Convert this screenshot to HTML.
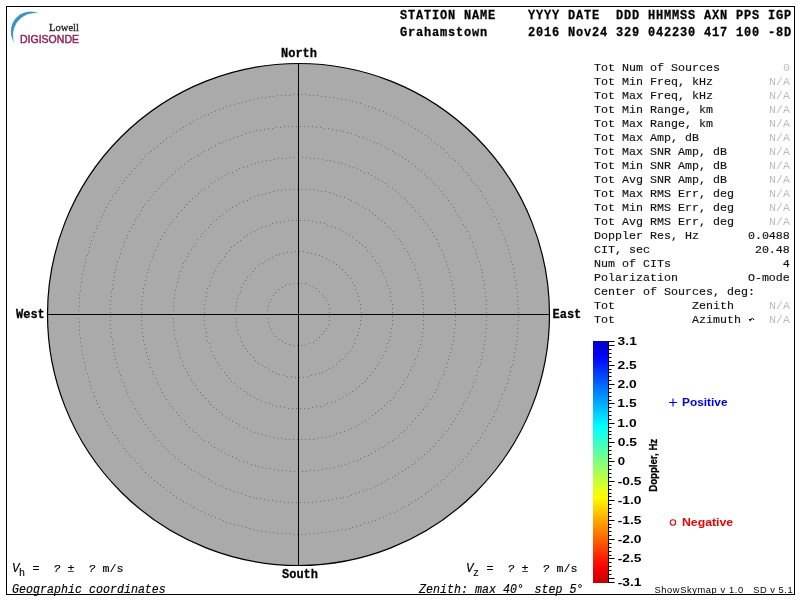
<!DOCTYPE html><html><head><meta charset="utf-8"><style>html,body{margin:0;padding:0;background:#fff;width:800px;height:600px;overflow:hidden}svg{display:block;will-change:transform}.m{font-family:"Liberation Mono",monospace}.k{stroke:currentColor;stroke-width:0.2px}.s{font-family:"Liberation Sans",sans-serif}.sf{font-family:"Liberation Serif",serif}</style></head><body>
<svg width="800" height="600" viewBox="0 0 800 600">
<defs><linearGradient id="jet" x1="0" y1="341" x2="0" y2="583" gradientUnits="userSpaceOnUse">
<stop offset="0.0000" stop-color="#0000c7"/>
<stop offset="0.0250" stop-color="#0000dd"/>
<stop offset="0.0500" stop-color="#0000f3"/>
<stop offset="0.0750" stop-color="#000aff"/>
<stop offset="0.1000" stop-color="#0020ff"/>
<stop offset="0.1250" stop-color="#0036ff"/>
<stop offset="0.1500" stop-color="#004cff"/>
<stop offset="0.1750" stop-color="#0062ff"/>
<stop offset="0.2000" stop-color="#0078ff"/>
<stop offset="0.2250" stop-color="#008eff"/>
<stop offset="0.2500" stop-color="#00a4ff"/>
<stop offset="0.2750" stop-color="#00baff"/>
<stop offset="0.3000" stop-color="#00d0ff"/>
<stop offset="0.3250" stop-color="#00e6ff"/>
<stop offset="0.3500" stop-color="#00fcff"/>
<stop offset="0.3750" stop-color="#13ffec"/>
<stop offset="0.4000" stop-color="#29ffd6"/>
<stop offset="0.4250" stop-color="#3fffc0"/>
<stop offset="0.4500" stop-color="#55ffaa"/>
<stop offset="0.4750" stop-color="#6bff94"/>
<stop offset="0.5000" stop-color="#81ff7e"/>
<stop offset="0.5250" stop-color="#97ff68"/>
<stop offset="0.5500" stop-color="#adff52"/>
<stop offset="0.5750" stop-color="#c3ff3c"/>
<stop offset="0.6000" stop-color="#d9ff26"/>
<stop offset="0.6250" stop-color="#f0ff0f"/>
<stop offset="0.6500" stop-color="#fff800"/>
<stop offset="0.6750" stop-color="#ffe200"/>
<stop offset="0.7000" stop-color="#ffcc00"/>
<stop offset="0.7250" stop-color="#ffb600"/>
<stop offset="0.7500" stop-color="#ffa000"/>
<stop offset="0.7750" stop-color="#ff8a00"/>
<stop offset="0.8000" stop-color="#ff7400"/>
<stop offset="0.8250" stop-color="#ff5e00"/>
<stop offset="0.8500" stop-color="#ff4800"/>
<stop offset="0.8750" stop-color="#ff3200"/>
<stop offset="0.9000" stop-color="#ff1c00"/>
<stop offset="0.9250" stop-color="#ff0600"/>
<stop offset="0.9500" stop-color="#ef0000"/>
<stop offset="0.9750" stop-color="#d90000"/>
<stop offset="1.0000" stop-color="#c30000"/>
</linearGradient></defs>
<rect x="6.5" y="6.5" width="788" height="588" fill="none" stroke="#000" stroke-width="1"/>
<circle cx="298.5" cy="314.5" r="251" fill="#aaaaaa" stroke="#000" stroke-width="1.2"/>
<path d="M329 316h1v1h-1zM329 320h1v1h-1zM328 324h1v1h-1zM326 328h1v1h-1zM324 331h1v1h-1zM322 334h1v1h-1zM319 337h1v1h-1zM316 340h1v1h-1zM313 342h1v1h-1zM309 343h1v1h-1zM305 345h1v1h-1zM301 345h1v1h-1zM297 345h1v1h-1zM293 345h1v1h-1zM289 344h1v1h-1zM285 343h1v1h-1zM282 341h1v1h-1zM278 339h1v1h-1zM275 336h1v1h-1zM273 333h1v1h-1zM271 329h1v1h-1zM269 326h1v1h-1zM268 322h1v1h-1zM267 318h1v1h-1zM267 314h1v1h-1zM267 310h1v1h-1zM268 306h1v1h-1zM269 302h1v1h-1zM271 299h1v1h-1zM273 295h1v1h-1zM275 292h1v1h-1zM278 289h1v1h-1zM282 287h1v1h-1zM285 285h1v1h-1zM289 284h1v1h-1zM293 283h1v1h-1zM297 283h1v1h-1zM301 283h1v1h-1zM305 283h1v1h-1zM309 285h1v1h-1zM313 286h1v1h-1zM316 288h1v1h-1zM319 291h1v1h-1zM322 294h1v1h-1zM324 297h1v1h-1zM326 300h1v1h-1zM328 304h1v1h-1zM329 308h1v1h-1zM329 312h1v1h-1zM361 316h1v1h-1zM360 320h1v1h-1zM360 324h1v1h-1zM359 328h1v1h-1zM358 332h1v1h-1zM357 335h1v1h-1zM355 339h1v1h-1zM354 343h1v1h-1zM352 346h1v1h-1zM350 350h1v1h-1zM347 353h1v1h-1zM345 356h1v1h-1zM342 359h1v1h-1zM339 361h1v1h-1zM336 364h1v1h-1zM333 366h1v1h-1zM329 368h1v1h-1zM326 370h1v1h-1zM322 372h1v1h-1zM319 373h1v1h-1zM315 374h1v1h-1zM311 375h1v1h-1zM307 376h1v1h-1zM303 377h1v1h-1zM299 377h1v1h-1zM295 377h1v1h-1zM291 376h1v1h-1zM287 376h1v1h-1zM283 375h1v1h-1zM279 374h1v1h-1zM276 373h1v1h-1zM272 371h1v1h-1zM268 369h1v1h-1zM265 367h1v1h-1zM262 365h1v1h-1zM258 363h1v1h-1zM255 360h1v1h-1zM253 357h1v1h-1zM250 354h1v1h-1zM247 351h1v1h-1zM245 348h1v1h-1zM243 345h1v1h-1zM241 341h1v1h-1zM240 337h1v1h-1zM238 334h1v1h-1zM237 330h1v1h-1zM236 326h1v1h-1zM236 322h1v1h-1zM235 318h1v1h-1zM235 314h1v1h-1zM235 310h1v1h-1zM236 306h1v1h-1zM236 302h1v1h-1zM237 298h1v1h-1zM238 294h1v1h-1zM240 291h1v1h-1zM241 287h1v1h-1zM243 283h1v1h-1zM245 280h1v1h-1zM247 277h1v1h-1zM250 274h1v1h-1zM253 271h1v1h-1zM255 268h1v1h-1zM258 265h1v1h-1zM262 263h1v1h-1zM265 261h1v1h-1zM268 259h1v1h-1zM272 257h1v1h-1zM276 255h1v1h-1zM279 254h1v1h-1zM283 253h1v1h-1zM287 252h1v1h-1zM291 252h1v1h-1zM295 251h1v1h-1zM299 251h1v1h-1zM303 251h1v1h-1zM307 252h1v1h-1zM311 253h1v1h-1zM315 254h1v1h-1zM319 255h1v1h-1zM322 256h1v1h-1zM326 258h1v1h-1zM329 260h1v1h-1zM333 262h1v1h-1zM336 264h1v1h-1zM339 267h1v1h-1zM342 269h1v1h-1zM345 272h1v1h-1zM347 275h1v1h-1zM350 278h1v1h-1zM352 282h1v1h-1zM354 285h1v1h-1zM355 289h1v1h-1zM357 293h1v1h-1zM358 296h1v1h-1zM359 300h1v1h-1zM360 304h1v1h-1zM360 308h1v1h-1zM361 312h1v1h-1zM392 316h1v1h-1zM392 320h1v1h-1zM392 324h1v1h-1zM391 328h1v1h-1zM390 332h1v1h-1zM390 336h1v1h-1zM389 340h1v1h-1zM387 343h1v1h-1zM386 347h1v1h-1zM385 351h1v1h-1zM383 355h1v1h-1zM381 358h1v1h-1zM379 362h1v1h-1zM377 365h1v1h-1zM375 368h1v1h-1zM372 372h1v1h-1zM370 375h1v1h-1zM367 378h1v1h-1zM365 381h1v1h-1zM362 383h1v1h-1zM359 386h1v1h-1zM356 388h1v1h-1zM352 391h1v1h-1zM349 393h1v1h-1zM346 395h1v1h-1zM342 397h1v1h-1zM339 399h1v1h-1zM335 401h1v1h-1zM331 402h1v1h-1zM327 403h1v1h-1zM324 405h1v1h-1zM320 406h1v1h-1zM316 406h1v1h-1zM312 407h1v1h-1zM308 408h1v1h-1zM304 408h1v1h-1zM300 408h1v1h-1zM296 408h1v1h-1zM292 408h1v1h-1zM288 408h1v1h-1zM284 407h1v1h-1zM280 406h1v1h-1zM276 406h1v1h-1zM272 405h1v1h-1zM269 403h1v1h-1zM265 402h1v1h-1zM261 401h1v1h-1zM257 399h1v1h-1zM254 397h1v1h-1zM250 395h1v1h-1zM247 393h1v1h-1zM244 391h1v1h-1zM240 388h1v1h-1zM237 386h1v1h-1zM234 383h1v1h-1zM231 381h1v1h-1zM229 378h1v1h-1zM226 375h1v1h-1zM224 372h1v1h-1zM221 368h1v1h-1zM219 365h1v1h-1zM217 362h1v1h-1zM215 358h1v1h-1zM213 355h1v1h-1zM211 351h1v1h-1zM210 347h1v1h-1zM209 343h1v1h-1zM207 340h1v1h-1zM206 336h1v1h-1zM206 332h1v1h-1zM205 328h1v1h-1zM204 324h1v1h-1zM204 320h1v1h-1zM204 316h1v1h-1zM204 312h1v1h-1zM204 308h1v1h-1zM204 304h1v1h-1zM205 300h1v1h-1zM206 296h1v1h-1zM206 292h1v1h-1zM207 288h1v1h-1zM209 285h1v1h-1zM210 281h1v1h-1zM211 277h1v1h-1zM213 273h1v1h-1zM215 270h1v1h-1zM217 266h1v1h-1zM219 263h1v1h-1zM221 260h1v1h-1zM224 256h1v1h-1zM226 253h1v1h-1zM229 250h1v1h-1zM231 247h1v1h-1zM234 245h1v1h-1zM237 242h1v1h-1zM240 240h1v1h-1zM244 237h1v1h-1zM247 235h1v1h-1zM250 233h1v1h-1zM254 231h1v1h-1zM257 229h1v1h-1zM261 227h1v1h-1zM265 226h1v1h-1zM269 225h1v1h-1zM272 223h1v1h-1zM276 222h1v1h-1zM280 222h1v1h-1zM284 221h1v1h-1zM288 220h1v1h-1zM292 220h1v1h-1zM296 220h1v1h-1zM300 220h1v1h-1zM304 220h1v1h-1zM308 220h1v1h-1zM312 221h1v1h-1zM316 222h1v1h-1zM320 222h1v1h-1zM324 223h1v1h-1zM327 225h1v1h-1zM331 226h1v1h-1zM335 227h1v1h-1zM339 229h1v1h-1zM342 231h1v1h-1zM346 233h1v1h-1zM349 235h1v1h-1zM352 237h1v1h-1zM356 240h1v1h-1zM359 242h1v1h-1zM362 245h1v1h-1zM365 247h1v1h-1zM367 250h1v1h-1zM370 253h1v1h-1zM372 256h1v1h-1zM375 260h1v1h-1zM377 263h1v1h-1zM379 266h1v1h-1zM381 270h1v1h-1zM383 273h1v1h-1zM385 277h1v1h-1zM386 281h1v1h-1zM387 285h1v1h-1zM389 288h1v1h-1zM390 292h1v1h-1zM390 296h1v1h-1zM391 300h1v1h-1zM392 304h1v1h-1zM392 308h1v1h-1zM392 312h1v1h-1zM423 316h1v1h-1zM423 320h1v1h-1zM423 324h1v1h-1zM423 328h1v1h-1zM422 332h1v1h-1zM422 336h1v1h-1zM421 340h1v1h-1zM420 344h1v1h-1zM419 348h1v1h-1zM418 351h1v1h-1zM417 355h1v1h-1zM415 359h1v1h-1zM414 363h1v1h-1zM412 366h1v1h-1zM410 370h1v1h-1zM408 374h1v1h-1zM407 377h1v1h-1zM404 380h1v1h-1zM402 384h1v1h-1zM400 387h1v1h-1zM398 390h1v1h-1zM395 393h1v1h-1zM393 397h1v1h-1zM390 400h1v1h-1zM387 402h1v1h-1zM384 405h1v1h-1zM381 408h1v1h-1zM378 410h1v1h-1zM375 413h1v1h-1zM372 415h1v1h-1zM369 418h1v1h-1zM365 420h1v1h-1zM362 422h1v1h-1zM358 424h1v1h-1zM355 426h1v1h-1zM351 428h1v1h-1zM348 429h1v1h-1zM344 431h1v1h-1zM340 432h1v1h-1zM336 433h1v1h-1zM333 435h1v1h-1zM329 436h1v1h-1zM325 437h1v1h-1zM321 437h1v1h-1zM317 438h1v1h-1zM313 439h1v1h-1zM309 439h1v1h-1zM305 439h1v1h-1zM301 439h1v1h-1zM297 439h1v1h-1zM293 439h1v1h-1zM289 439h1v1h-1zM285 439h1v1h-1zM281 438h1v1h-1zM277 438h1v1h-1zM273 437h1v1h-1zM269 436h1v1h-1zM265 435h1v1h-1zM262 434h1v1h-1zM258 433h1v1h-1zM254 432h1v1h-1zM250 430h1v1h-1zM247 428h1v1h-1zM243 427h1v1h-1zM239 425h1v1h-1zM236 423h1v1h-1zM232 421h1v1h-1zM229 419h1v1h-1zM226 417h1v1h-1zM222 414h1v1h-1zM219 412h1v1h-1zM216 409h1v1h-1zM213 407h1v1h-1zM210 404h1v1h-1zM208 401h1v1h-1zM205 398h1v1h-1zM202 395h1v1h-1zM200 392h1v1h-1zM197 389h1v1h-1zM195 385h1v1h-1zM193 382h1v1h-1zM191 379h1v1h-1zM188 375h1v1h-1zM187 372h1v1h-1zM185 368h1v1h-1zM183 365h1v1h-1zM182 361h1v1h-1zM180 357h1v1h-1zM179 353h1v1h-1zM178 350h1v1h-1zM177 346h1v1h-1zM176 342h1v1h-1zM175 338h1v1h-1zM174 334h1v1h-1zM174 330h1v1h-1zM173 326h1v1h-1zM173 322h1v1h-1zM173 318h1v1h-1zM173 314h1v1h-1zM173 310h1v1h-1zM173 306h1v1h-1zM173 302h1v1h-1zM174 298h1v1h-1zM174 294h1v1h-1zM175 290h1v1h-1zM176 286h1v1h-1zM177 282h1v1h-1zM178 278h1v1h-1zM179 275h1v1h-1zM180 271h1v1h-1zM182 267h1v1h-1zM183 263h1v1h-1zM185 260h1v1h-1zM187 256h1v1h-1zM188 253h1v1h-1zM191 249h1v1h-1zM193 246h1v1h-1zM195 243h1v1h-1zM197 239h1v1h-1zM200 236h1v1h-1zM202 233h1v1h-1zM205 230h1v1h-1zM208 227h1v1h-1zM210 224h1v1h-1zM213 221h1v1h-1zM216 219h1v1h-1zM219 216h1v1h-1zM222 214h1v1h-1zM226 211h1v1h-1zM229 209h1v1h-1zM232 207h1v1h-1zM236 205h1v1h-1zM239 203h1v1h-1zM243 201h1v1h-1zM247 200h1v1h-1zM250 198h1v1h-1zM254 196h1v1h-1zM258 195h1v1h-1zM262 194h1v1h-1zM265 193h1v1h-1zM269 192h1v1h-1zM273 191h1v1h-1zM277 190h1v1h-1zM281 190h1v1h-1zM285 189h1v1h-1zM289 189h1v1h-1zM293 189h1v1h-1zM297 189h1v1h-1zM301 189h1v1h-1zM305 189h1v1h-1zM309 189h1v1h-1zM313 189h1v1h-1zM317 190h1v1h-1zM321 191h1v1h-1zM325 191h1v1h-1zM329 192h1v1h-1zM333 193h1v1h-1zM336 195h1v1h-1zM340 196h1v1h-1zM344 197h1v1h-1zM348 199h1v1h-1zM351 200h1v1h-1zM355 202h1v1h-1zM358 204h1v1h-1zM362 206h1v1h-1zM365 208h1v1h-1zM369 210h1v1h-1zM372 213h1v1h-1zM375 215h1v1h-1zM378 218h1v1h-1zM381 220h1v1h-1zM384 223h1v1h-1zM387 226h1v1h-1zM390 228h1v1h-1zM393 231h1v1h-1zM395 235h1v1h-1zM398 238h1v1h-1zM400 241h1v1h-1zM402 244h1v1h-1zM404 248h1v1h-1zM407 251h1v1h-1zM408 254h1v1h-1zM410 258h1v1h-1zM412 262h1v1h-1zM414 265h1v1h-1zM415 269h1v1h-1zM417 273h1v1h-1zM418 277h1v1h-1zM419 280h1v1h-1zM420 284h1v1h-1zM421 288h1v1h-1zM422 292h1v1h-1zM422 296h1v1h-1zM423 300h1v1h-1zM423 304h1v1h-1zM423 308h1v1h-1zM423 312h1v1h-1zM455 316h1v1h-1zM455 320h1v1h-1zM455 324h1v1h-1zM454 328h1v1h-1zM454 332h1v1h-1zM453 336h1v1h-1zM453 340h1v1h-1zM452 344h1v1h-1zM451 348h1v1h-1zM450 352h1v1h-1zM449 356h1v1h-1zM448 359h1v1h-1zM447 363h1v1h-1zM446 367h1v1h-1zM444 371h1v1h-1zM443 374h1v1h-1zM441 378h1v1h-1zM439 382h1v1h-1zM438 385h1v1h-1zM436 389h1v1h-1zM434 392h1v1h-1zM432 396h1v1h-1zM430 399h1v1h-1zM427 403h1v1h-1zM425 406h1v1h-1zM423 409h1v1h-1zM420 412h1v1h-1zM418 415h1v1h-1zM415 418h1v1h-1zM412 421h1v1h-1zM410 424h1v1h-1zM407 427h1v1h-1zM404 430h1v1h-1zM401 432h1v1h-1zM398 435h1v1h-1zM395 438h1v1h-1zM392 440h1v1h-1zM388 442h1v1h-1zM385 445h1v1h-1zM382 447h1v1h-1zM378 449h1v1h-1zM375 451h1v1h-1zM371 453h1v1h-1zM368 455h1v1h-1zM364 456h1v1h-1zM360 458h1v1h-1zM357 460h1v1h-1zM353 461h1v1h-1zM349 462h1v1h-1zM345 464h1v1h-1zM341 465h1v1h-1zM338 466h1v1h-1zM334 467h1v1h-1zM330 468h1v1h-1zM326 468h1v1h-1zM322 469h1v1h-1zM318 470h1v1h-1zM314 470h1v1h-1zM310 470h1v1h-1zM306 471h1v1h-1zM302 471h1v1h-1zM298 471h1v1h-1zM294 471h1v1h-1zM290 471h1v1h-1zM286 470h1v1h-1zM282 470h1v1h-1zM278 470h1v1h-1zM274 469h1v1h-1zM270 468h1v1h-1zM266 468h1v1h-1zM262 467h1v1h-1zM258 466h1v1h-1zM255 465h1v1h-1zM251 464h1v1h-1zM247 462h1v1h-1zM243 461h1v1h-1zM239 460h1v1h-1zM236 458h1v1h-1zM232 456h1v1h-1zM228 455h1v1h-1zM225 453h1v1h-1zM221 451h1v1h-1zM218 449h1v1h-1zM214 447h1v1h-1zM211 445h1v1h-1zM208 442h1v1h-1zM204 440h1v1h-1zM201 438h1v1h-1zM198 435h1v1h-1zM195 432h1v1h-1zM192 430h1v1h-1zM189 427h1v1h-1zM186 424h1v1h-1zM184 421h1v1h-1zM181 418h1v1h-1zM178 415h1v1h-1zM176 412h1v1h-1zM173 409h1v1h-1zM171 406h1v1h-1zM169 403h1v1h-1zM166 399h1v1h-1zM164 396h1v1h-1zM162 392h1v1h-1zM160 389h1v1h-1zM158 385h1v1h-1zM157 382h1v1h-1zM155 378h1v1h-1zM153 374h1v1h-1zM152 371h1v1h-1zM150 367h1v1h-1zM149 363h1v1h-1zM148 359h1v1h-1zM147 356h1v1h-1zM146 352h1v1h-1zM145 348h1v1h-1zM144 344h1v1h-1zM143 340h1v1h-1zM143 336h1v1h-1zM142 332h1v1h-1zM142 328h1v1h-1zM141 324h1v1h-1zM141 320h1v1h-1zM141 316h1v1h-1zM141 312h1v1h-1zM141 308h1v1h-1zM141 304h1v1h-1zM142 300h1v1h-1zM142 296h1v1h-1zM143 292h1v1h-1zM143 288h1v1h-1zM144 284h1v1h-1zM145 280h1v1h-1zM146 276h1v1h-1zM147 272h1v1h-1zM148 269h1v1h-1zM149 265h1v1h-1zM150 261h1v1h-1zM152 257h1v1h-1zM153 254h1v1h-1zM155 250h1v1h-1zM157 246h1v1h-1zM158 243h1v1h-1zM160 239h1v1h-1zM162 236h1v1h-1zM164 232h1v1h-1zM166 229h1v1h-1zM169 225h1v1h-1zM171 222h1v1h-1zM173 219h1v1h-1zM176 216h1v1h-1zM178 213h1v1h-1zM181 210h1v1h-1zM184 207h1v1h-1zM186 204h1v1h-1zM189 201h1v1h-1zM192 198h1v1h-1zM195 196h1v1h-1zM198 193h1v1h-1zM201 190h1v1h-1zM204 188h1v1h-1zM208 186h1v1h-1zM211 183h1v1h-1zM214 181h1v1h-1zM218 179h1v1h-1zM221 177h1v1h-1zM225 175h1v1h-1zM228 173h1v1h-1zM232 172h1v1h-1zM236 170h1v1h-1zM239 168h1v1h-1zM243 167h1v1h-1zM247 166h1v1h-1zM251 164h1v1h-1zM255 163h1v1h-1zM258 162h1v1h-1zM262 161h1v1h-1zM266 160h1v1h-1zM270 160h1v1h-1zM274 159h1v1h-1zM278 158h1v1h-1zM282 158h1v1h-1zM286 158h1v1h-1zM290 157h1v1h-1zM294 157h1v1h-1zM298 157h1v1h-1zM302 157h1v1h-1zM306 157h1v1h-1zM310 158h1v1h-1zM314 158h1v1h-1zM318 158h1v1h-1zM322 159h1v1h-1zM326 160h1v1h-1zM330 160h1v1h-1zM334 161h1v1h-1zM338 162h1v1h-1zM341 163h1v1h-1zM345 164h1v1h-1zM349 166h1v1h-1zM353 167h1v1h-1zM357 168h1v1h-1zM360 170h1v1h-1zM364 172h1v1h-1zM368 173h1v1h-1zM371 175h1v1h-1zM375 177h1v1h-1zM378 179h1v1h-1zM382 181h1v1h-1zM385 183h1v1h-1zM388 186h1v1h-1zM392 188h1v1h-1zM395 190h1v1h-1zM398 193h1v1h-1zM401 196h1v1h-1zM404 198h1v1h-1zM407 201h1v1h-1zM410 204h1v1h-1zM412 207h1v1h-1zM415 210h1v1h-1zM418 213h1v1h-1zM420 216h1v1h-1zM423 219h1v1h-1zM425 222h1v1h-1zM427 225h1v1h-1zM430 229h1v1h-1zM432 232h1v1h-1zM434 236h1v1h-1zM436 239h1v1h-1zM438 243h1v1h-1zM439 246h1v1h-1zM441 250h1v1h-1zM443 254h1v1h-1zM444 257h1v1h-1zM446 261h1v1h-1zM447 265h1v1h-1zM448 269h1v1h-1zM449 272h1v1h-1zM450 276h1v1h-1zM451 280h1v1h-1zM452 284h1v1h-1zM453 288h1v1h-1zM453 292h1v1h-1zM454 296h1v1h-1zM454 300h1v1h-1zM455 304h1v1h-1zM455 308h1v1h-1zM455 312h1v1h-1zM486 316h1v1h-1zM486 320h1v1h-1zM486 324h1v1h-1zM486 328h1v1h-1zM485 332h1v1h-1zM485 336h1v1h-1zM484 340h1v1h-1zM484 344h1v1h-1zM483 348h1v1h-1zM482 352h1v1h-1zM482 356h1v1h-1zM481 359h1v1h-1zM480 363h1v1h-1zM479 367h1v1h-1zM477 371h1v1h-1zM476 375h1v1h-1zM475 379h1v1h-1zM473 382h1v1h-1zM472 386h1v1h-1zM470 390h1v1h-1zM469 393h1v1h-1zM467 397h1v1h-1zM465 401h1v1h-1zM463 404h1v1h-1zM461 408h1v1h-1zM459 411h1v1h-1zM457 414h1v1h-1zM455 418h1v1h-1zM453 421h1v1h-1zM451 424h1v1h-1zM448 428h1v1h-1zM446 431h1v1h-1zM443 434h1v1h-1zM441 437h1v1h-1zM438 440h1v1h-1zM435 443h1v1h-1zM433 446h1v1h-1zM430 449h1v1h-1zM427 451h1v1h-1zM424 454h1v1h-1zM421 457h1v1h-1zM418 459h1v1h-1zM415 462h1v1h-1zM412 464h1v1h-1zM408 467h1v1h-1zM405 469h1v1h-1zM402 471h1v1h-1zM398 473h1v1h-1zM395 475h1v1h-1zM392 477h1v1h-1zM388 479h1v1h-1zM385 481h1v1h-1zM381 483h1v1h-1zM377 485h1v1h-1zM374 486h1v1h-1zM370 488h1v1h-1zM366 489h1v1h-1zM363 491h1v1h-1zM359 492h1v1h-1zM355 493h1v1h-1zM351 495h1v1h-1zM347 496h1v1h-1zM343 497h1v1h-1zM340 498h1v1h-1zM336 498h1v1h-1zM332 499h1v1h-1zM328 500h1v1h-1zM324 500h1v1h-1zM320 501h1v1h-1zM316 501h1v1h-1zM312 502h1v1h-1zM308 502h1v1h-1zM304 502h1v1h-1zM300 502h1v1h-1zM296 502h1v1h-1zM292 502h1v1h-1zM288 502h1v1h-1zM284 502h1v1h-1zM280 501h1v1h-1zM276 501h1v1h-1zM272 500h1v1h-1zM268 500h1v1h-1zM264 499h1v1h-1zM260 498h1v1h-1zM256 498h1v1h-1zM253 497h1v1h-1zM249 496h1v1h-1zM245 495h1v1h-1zM241 493h1v1h-1zM237 492h1v1h-1zM233 491h1v1h-1zM230 489h1v1h-1zM226 488h1v1h-1zM222 486h1v1h-1zM219 485h1v1h-1zM215 483h1v1h-1zM211 481h1v1h-1zM208 479h1v1h-1zM204 477h1v1h-1zM201 475h1v1h-1zM198 473h1v1h-1zM194 471h1v1h-1zM191 469h1v1h-1zM188 467h1v1h-1zM184 464h1v1h-1zM181 462h1v1h-1zM178 459h1v1h-1zM175 457h1v1h-1zM172 454h1v1h-1zM169 451h1v1h-1zM166 449h1v1h-1zM163 446h1v1h-1zM161 443h1v1h-1zM158 440h1v1h-1zM155 437h1v1h-1zM153 434h1v1h-1zM150 431h1v1h-1zM148 428h1v1h-1zM145 424h1v1h-1zM143 421h1v1h-1zM141 418h1v1h-1zM139 414h1v1h-1zM137 411h1v1h-1zM135 408h1v1h-1zM133 404h1v1h-1zM131 401h1v1h-1zM129 397h1v1h-1zM127 393h1v1h-1zM126 390h1v1h-1zM124 386h1v1h-1zM123 382h1v1h-1zM121 379h1v1h-1zM120 375h1v1h-1zM119 371h1v1h-1zM117 367h1v1h-1zM116 363h1v1h-1zM115 359h1v1h-1zM114 356h1v1h-1zM114 352h1v1h-1zM113 348h1v1h-1zM112 344h1v1h-1zM112 340h1v1h-1zM111 336h1v1h-1zM111 332h1v1h-1zM110 328h1v1h-1zM110 324h1v1h-1zM110 320h1v1h-1zM110 316h1v1h-1zM110 312h1v1h-1zM110 308h1v1h-1zM110 304h1v1h-1zM110 300h1v1h-1zM111 296h1v1h-1zM111 292h1v1h-1zM112 288h1v1h-1zM112 284h1v1h-1zM113 280h1v1h-1zM114 276h1v1h-1zM114 272h1v1h-1zM115 269h1v1h-1zM116 265h1v1h-1zM117 261h1v1h-1zM119 257h1v1h-1zM120 253h1v1h-1zM121 249h1v1h-1zM123 246h1v1h-1zM124 242h1v1h-1zM126 238h1v1h-1zM127 235h1v1h-1zM129 231h1v1h-1zM131 227h1v1h-1zM133 224h1v1h-1zM135 220h1v1h-1zM137 217h1v1h-1zM139 214h1v1h-1zM141 210h1v1h-1zM143 207h1v1h-1zM145 204h1v1h-1zM148 200h1v1h-1zM150 197h1v1h-1zM153 194h1v1h-1zM155 191h1v1h-1zM158 188h1v1h-1zM161 185h1v1h-1zM163 182h1v1h-1zM166 179h1v1h-1zM169 177h1v1h-1zM172 174h1v1h-1zM175 171h1v1h-1zM178 169h1v1h-1zM181 166h1v1h-1zM184 164h1v1h-1zM188 161h1v1h-1zM191 159h1v1h-1zM194 157h1v1h-1zM198 155h1v1h-1zM201 153h1v1h-1zM204 151h1v1h-1zM208 149h1v1h-1zM211 147h1v1h-1zM215 145h1v1h-1zM219 143h1v1h-1zM222 142h1v1h-1zM226 140h1v1h-1zM230 139h1v1h-1zM233 137h1v1h-1zM237 136h1v1h-1zM241 135h1v1h-1zM245 133h1v1h-1zM249 132h1v1h-1zM253 131h1v1h-1zM256 130h1v1h-1zM260 130h1v1h-1zM264 129h1v1h-1zM268 128h1v1h-1zM272 128h1v1h-1zM276 127h1v1h-1zM280 127h1v1h-1zM284 126h1v1h-1zM288 126h1v1h-1zM292 126h1v1h-1zM296 126h1v1h-1zM300 126h1v1h-1zM304 126h1v1h-1zM308 126h1v1h-1zM312 126h1v1h-1zM316 127h1v1h-1zM320 127h1v1h-1zM324 128h1v1h-1zM328 128h1v1h-1zM332 129h1v1h-1zM336 130h1v1h-1zM340 130h1v1h-1zM343 131h1v1h-1zM347 132h1v1h-1zM351 133h1v1h-1zM355 135h1v1h-1zM359 136h1v1h-1zM363 137h1v1h-1zM366 139h1v1h-1zM370 140h1v1h-1zM374 142h1v1h-1zM377 143h1v1h-1zM381 145h1v1h-1zM385 147h1v1h-1zM388 149h1v1h-1zM392 151h1v1h-1zM395 153h1v1h-1zM398 155h1v1h-1zM402 157h1v1h-1zM405 159h1v1h-1zM408 161h1v1h-1zM412 164h1v1h-1zM415 166h1v1h-1zM418 169h1v1h-1zM421 171h1v1h-1zM424 174h1v1h-1zM427 177h1v1h-1zM430 179h1v1h-1zM433 182h1v1h-1zM435 185h1v1h-1zM438 188h1v1h-1zM441 191h1v1h-1zM443 194h1v1h-1zM446 197h1v1h-1zM448 200h1v1h-1zM451 204h1v1h-1zM453 207h1v1h-1zM455 210h1v1h-1zM457 214h1v1h-1zM459 217h1v1h-1zM461 220h1v1h-1zM463 224h1v1h-1zM465 227h1v1h-1zM467 231h1v1h-1zM469 235h1v1h-1zM470 238h1v1h-1zM472 242h1v1h-1zM473 246h1v1h-1zM475 249h1v1h-1zM476 253h1v1h-1zM477 257h1v1h-1zM479 261h1v1h-1zM480 265h1v1h-1zM481 269h1v1h-1zM482 272h1v1h-1zM482 276h1v1h-1zM483 280h1v1h-1zM484 284h1v1h-1zM484 288h1v1h-1zM485 292h1v1h-1zM485 296h1v1h-1zM486 300h1v1h-1zM486 304h1v1h-1zM486 308h1v1h-1zM486 312h1v1h-1zM518 316h1v1h-1zM518 320h1v1h-1zM517 324h1v1h-1zM517 328h1v1h-1zM517 332h1v1h-1zM517 336h1v1h-1zM516 340h1v1h-1zM516 344h1v1h-1zM515 348h1v1h-1zM514 352h1v1h-1zM514 356h1v1h-1zM513 360h1v1h-1zM512 364h1v1h-1zM511 367h1v1h-1zM510 371h1v1h-1zM509 375h1v1h-1zM508 379h1v1h-1zM507 383h1v1h-1zM505 387h1v1h-1zM504 390h1v1h-1zM502 394h1v1h-1zM501 398h1v1h-1zM499 401h1v1h-1zM498 405h1v1h-1zM496 409h1v1h-1zM494 412h1v1h-1zM493 416h1v1h-1zM491 419h1v1h-1zM489 423h1v1h-1zM487 426h1v1h-1zM485 430h1v1h-1zM482 433h1v1h-1zM480 437h1v1h-1zM478 440h1v1h-1zM476 443h1v1h-1zM473 446h1v1h-1zM471 449h1v1h-1zM468 453h1v1h-1zM466 456h1v1h-1zM463 459h1v1h-1zM461 462h1v1h-1zM458 465h1v1h-1zM455 468h1v1h-1zM452 470h1v1h-1zM449 473h1v1h-1zM446 476h1v1h-1zM443 479h1v1h-1zM440 481h1v1h-1zM437 484h1v1h-1zM434 486h1v1h-1zM431 489h1v1h-1zM428 491h1v1h-1zM425 493h1v1h-1zM421 496h1v1h-1zM418 498h1v1h-1zM415 500h1v1h-1zM411 502h1v1h-1zM408 504h1v1h-1zM404 506h1v1h-1zM401 508h1v1h-1zM397 510h1v1h-1zM394 512h1v1h-1zM390 513h1v1h-1zM386 515h1v1h-1zM383 517h1v1h-1zM379 518h1v1h-1zM375 520h1v1h-1zM372 521h1v1h-1zM368 522h1v1h-1zM364 523h1v1h-1zM360 525h1v1h-1zM356 526h1v1h-1zM352 527h1v1h-1zM349 528h1v1h-1zM345 529h1v1h-1zM341 529h1v1h-1zM337 530h1v1h-1zM333 531h1v1h-1zM329 531h1v1h-1zM325 532h1v1h-1zM321 532h1v1h-1zM317 533h1v1h-1zM313 533h1v1h-1zM309 533h1v1h-1zM305 534h1v1h-1zM301 534h1v1h-1zM297 534h1v1h-1zM293 534h1v1h-1zM289 533h1v1h-1zM285 533h1v1h-1zM281 533h1v1h-1zM277 533h1v1h-1zM273 532h1v1h-1zM269 532h1v1h-1zM265 531h1v1h-1zM261 531h1v1h-1zM257 530h1v1h-1zM253 529h1v1h-1zM249 528h1v1h-1zM246 527h1v1h-1zM242 526h1v1h-1zM238 525h1v1h-1zM234 524h1v1h-1zM230 523h1v1h-1zM226 522h1v1h-1zM223 520h1v1h-1zM219 519h1v1h-1zM215 517h1v1h-1zM211 516h1v1h-1zM208 514h1v1h-1zM204 513h1v1h-1zM201 511h1v1h-1zM197 509h1v1h-1zM193 507h1v1h-1zM190 505h1v1h-1zM186 503h1v1h-1zM183 501h1v1h-1zM180 499h1v1h-1zM176 497h1v1h-1zM173 495h1v1h-1zM170 492h1v1h-1zM166 490h1v1h-1zM163 487h1v1h-1zM160 485h1v1h-1zM157 482h1v1h-1zM154 480h1v1h-1zM151 477h1v1h-1zM148 475h1v1h-1zM145 472h1v1h-1zM142 469h1v1h-1zM140 466h1v1h-1zM137 463h1v1h-1zM134 460h1v1h-1zM131 457h1v1h-1zM129 454h1v1h-1zM126 451h1v1h-1zM124 448h1v1h-1zM122 445h1v1h-1zM119 441h1v1h-1zM117 438h1v1h-1zM115 435h1v1h-1zM112 432h1v1h-1zM110 428h1v1h-1zM108 425h1v1h-1zM106 421h1v1h-1zM104 418h1v1h-1zM103 414h1v1h-1zM101 411h1v1h-1zM99 407h1v1h-1zM97 403h1v1h-1zM96 400h1v1h-1zM94 396h1v1h-1zM93 392h1v1h-1zM91 388h1v1h-1zM90 385h1v1h-1zM89 381h1v1h-1zM88 377h1v1h-1zM87 373h1v1h-1zM85 369h1v1h-1zM85 366h1v1h-1zM84 362h1v1h-1zM83 358h1v1h-1zM82 354h1v1h-1zM81 350h1v1h-1zM81 346h1v1h-1zM80 342h1v1h-1zM80 338h1v1h-1zM79 334h1v1h-1zM79 330h1v1h-1zM79 326h1v1h-1zM79 322h1v1h-1zM78 318h1v1h-1zM78 314h1v1h-1zM78 310h1v1h-1zM79 306h1v1h-1zM79 302h1v1h-1zM79 298h1v1h-1zM79 294h1v1h-1zM80 290h1v1h-1zM80 286h1v1h-1zM81 282h1v1h-1zM81 278h1v1h-1zM82 274h1v1h-1zM83 270h1v1h-1zM84 266h1v1h-1zM85 262h1v1h-1zM85 259h1v1h-1zM87 255h1v1h-1zM88 251h1v1h-1zM89 247h1v1h-1zM90 243h1v1h-1zM91 240h1v1h-1zM93 236h1v1h-1zM94 232h1v1h-1zM96 228h1v1h-1zM97 225h1v1h-1zM99 221h1v1h-1zM101 217h1v1h-1zM103 214h1v1h-1zM104 210h1v1h-1zM106 207h1v1h-1zM108 203h1v1h-1zM110 200h1v1h-1zM112 196h1v1h-1zM115 193h1v1h-1zM117 190h1v1h-1zM119 187h1v1h-1zM122 183h1v1h-1zM124 180h1v1h-1zM126 177h1v1h-1zM129 174h1v1h-1zM131 171h1v1h-1zM134 168h1v1h-1zM137 165h1v1h-1zM140 162h1v1h-1zM142 159h1v1h-1zM145 156h1v1h-1zM148 153h1v1h-1zM151 151h1v1h-1zM154 148h1v1h-1zM157 146h1v1h-1zM160 143h1v1h-1zM163 141h1v1h-1zM166 138h1v1h-1zM170 136h1v1h-1zM173 133h1v1h-1zM176 131h1v1h-1zM180 129h1v1h-1zM183 127h1v1h-1zM186 125h1v1h-1zM190 123h1v1h-1zM193 121h1v1h-1zM197 119h1v1h-1zM201 117h1v1h-1zM204 115h1v1h-1zM208 114h1v1h-1zM211 112h1v1h-1zM215 111h1v1h-1zM219 109h1v1h-1zM223 108h1v1h-1zM226 106h1v1h-1zM230 105h1v1h-1zM234 104h1v1h-1zM238 103h1v1h-1zM242 102h1v1h-1zM246 101h1v1h-1zM249 100h1v1h-1zM253 99h1v1h-1zM257 98h1v1h-1zM261 97h1v1h-1zM265 97h1v1h-1zM269 96h1v1h-1zM273 96h1v1h-1zM277 95h1v1h-1zM281 95h1v1h-1zM285 95h1v1h-1zM289 95h1v1h-1zM293 94h1v1h-1zM297 94h1v1h-1zM301 94h1v1h-1zM305 94h1v1h-1zM309 95h1v1h-1zM313 95h1v1h-1zM317 95h1v1h-1zM321 96h1v1h-1zM325 96h1v1h-1zM329 97h1v1h-1zM333 97h1v1h-1zM337 98h1v1h-1zM341 99h1v1h-1zM345 99h1v1h-1zM349 100h1v1h-1zM352 101h1v1h-1zM356 102h1v1h-1zM360 103h1v1h-1zM364 105h1v1h-1zM368 106h1v1h-1zM372 107h1v1h-1zM375 108h1v1h-1zM379 110h1v1h-1zM383 111h1v1h-1zM386 113h1v1h-1zM390 115h1v1h-1zM394 116h1v1h-1zM397 118h1v1h-1zM401 120h1v1h-1zM404 122h1v1h-1zM408 124h1v1h-1zM411 126h1v1h-1zM415 128h1v1h-1zM418 130h1v1h-1zM421 132h1v1h-1zM425 135h1v1h-1zM428 137h1v1h-1zM431 139h1v1h-1zM434 142h1v1h-1zM437 144h1v1h-1zM440 147h1v1h-1zM443 149h1v1h-1zM446 152h1v1h-1zM449 155h1v1h-1zM452 158h1v1h-1zM455 160h1v1h-1zM458 163h1v1h-1zM461 166h1v1h-1zM463 169h1v1h-1zM466 172h1v1h-1zM468 175h1v1h-1zM471 179h1v1h-1zM473 182h1v1h-1zM476 185h1v1h-1zM478 188h1v1h-1zM480 191h1v1h-1zM482 195h1v1h-1zM485 198h1v1h-1zM487 202h1v1h-1zM489 205h1v1h-1zM491 209h1v1h-1zM493 212h1v1h-1zM494 216h1v1h-1zM496 219h1v1h-1zM498 223h1v1h-1zM499 227h1v1h-1zM501 230h1v1h-1zM502 234h1v1h-1zM504 238h1v1h-1zM505 241h1v1h-1zM507 245h1v1h-1zM508 249h1v1h-1zM509 253h1v1h-1zM510 257h1v1h-1zM511 261h1v1h-1zM512 264h1v1h-1zM513 268h1v1h-1zM514 272h1v1h-1zM514 276h1v1h-1zM515 280h1v1h-1zM516 284h1v1h-1zM516 288h1v1h-1zM517 292h1v1h-1zM517 296h1v1h-1zM517 300h1v1h-1zM517 304h1v1h-1zM518 308h1v1h-1zM518 312h1v1h-1z" fill="#707070"/>
<path d="M298.5 63.5V565.5M47.5 314.5H549.5" stroke="#000" stroke-width="1"/>
<text class="m" x="0" y="0" font-size="12px" xml:space="preserve" transform="translate(281 57) scale(1.0 1.11)" font-weight="bold" stroke="#000" stroke-width="0.25" >North</text>
<text class="m" x="0" y="0" font-size="12px" xml:space="preserve" transform="translate(282 578) scale(1.0 1.11)" font-weight="bold" stroke="#000" stroke-width="0.25" >South</text>
<text class="m" x="0" y="0" font-size="12px" xml:space="preserve" transform="translate(16 318) scale(1.0 1.11)" font-weight="bold" stroke="#000" stroke-width="0.25" >West</text>
<text class="m" x="0" y="0" font-size="12px" xml:space="preserve" transform="translate(552.5 318) scale(1.0 1.11)" font-weight="bold" stroke="#000" stroke-width="0.25" >East</text>
<text class="m" x="0" y="0" font-size="12px" xml:space="preserve" transform="translate(400 19) scale(1.0 1.06)" font-weight="bold" stroke="#000" stroke-width="0.25" letter-spacing="0.8" >STATION NAME    YYYY DATE  DDD HHMMSS AXN PPS IGP</text>
<text class="m" x="0" y="0" font-size="12px" xml:space="preserve" transform="translate(400 35.7) scale(1.0 1.06)" font-weight="bold" stroke="#000" stroke-width="0.25" letter-spacing="0.8" >Grahamstown     2016 Nov24 329 042230 417 100 -8D</text>
<text class="m" x="594" y="71" font-size="11.67px" xml:space="preserve" fill="#111" stroke="#111" stroke-width="0.15" >Tot Num of Sources</text>
<text class="m" x="783" y="71" font-size="11.67px" xml:space="preserve" fill="#bcbcbc" >0</text>
<text class="m" x="594" y="85" font-size="11.67px" xml:space="preserve" fill="#111" stroke="#111" stroke-width="0.15" >Tot Min Freq, kHz</text>
<text class="m" x="769" y="85" font-size="11.67px" xml:space="preserve" fill="#bcbcbc" >N/A</text>
<text class="m" x="594" y="99" font-size="11.67px" xml:space="preserve" fill="#111" stroke="#111" stroke-width="0.15" >Tot Max Freq, kHz</text>
<text class="m" x="769" y="99" font-size="11.67px" xml:space="preserve" fill="#bcbcbc" >N/A</text>
<text class="m" x="594" y="113" font-size="11.67px" xml:space="preserve" fill="#111" stroke="#111" stroke-width="0.15" >Tot Min Range, km</text>
<text class="m" x="769" y="113" font-size="11.67px" xml:space="preserve" fill="#bcbcbc" >N/A</text>
<text class="m" x="594" y="127" font-size="11.67px" xml:space="preserve" fill="#111" stroke="#111" stroke-width="0.15" >Tot Max Range, km</text>
<text class="m" x="769" y="127" font-size="11.67px" xml:space="preserve" fill="#bcbcbc" >N/A</text>
<text class="m" x="594" y="141" font-size="11.67px" xml:space="preserve" fill="#111" stroke="#111" stroke-width="0.15" >Tot Max Amp, dB</text>
<text class="m" x="769" y="141" font-size="11.67px" xml:space="preserve" fill="#bcbcbc" >N/A</text>
<text class="m" x="594" y="155" font-size="11.67px" xml:space="preserve" fill="#111" stroke="#111" stroke-width="0.15" >Tot Max SNR Amp, dB</text>
<text class="m" x="769" y="155" font-size="11.67px" xml:space="preserve" fill="#bcbcbc" >N/A</text>
<text class="m" x="594" y="169" font-size="11.67px" xml:space="preserve" fill="#111" stroke="#111" stroke-width="0.15" >Tot Min SNR Amp, dB</text>
<text class="m" x="769" y="169" font-size="11.67px" xml:space="preserve" fill="#bcbcbc" >N/A</text>
<text class="m" x="594" y="183" font-size="11.67px" xml:space="preserve" fill="#111" stroke="#111" stroke-width="0.15" >Tot Avg SNR Amp, dB</text>
<text class="m" x="769" y="183" font-size="11.67px" xml:space="preserve" fill="#bcbcbc" >N/A</text>
<text class="m" x="594" y="197" font-size="11.67px" xml:space="preserve" fill="#111" stroke="#111" stroke-width="0.15" >Tot Max RMS Err, deg</text>
<text class="m" x="769" y="197" font-size="11.67px" xml:space="preserve" fill="#bcbcbc" >N/A</text>
<text class="m" x="594" y="211" font-size="11.67px" xml:space="preserve" fill="#111" stroke="#111" stroke-width="0.15" >Tot Min RMS Err, deg</text>
<text class="m" x="769" y="211" font-size="11.67px" xml:space="preserve" fill="#bcbcbc" >N/A</text>
<text class="m" x="594" y="225" font-size="11.67px" xml:space="preserve" fill="#111" stroke="#111" stroke-width="0.15" >Tot Avg RMS Err, deg</text>
<text class="m" x="769" y="225" font-size="11.67px" xml:space="preserve" fill="#bcbcbc" >N/A</text>
<text class="m" x="594" y="239" font-size="11.67px" xml:space="preserve" fill="#111" stroke="#111" stroke-width="0.15" >Doppler Res, Hz       0.0488</text>
<text class="m" x="594" y="253" font-size="11.67px" xml:space="preserve" fill="#111" stroke="#111" stroke-width="0.15" >CIT, sec               20.48</text>
<text class="m" x="594" y="267" font-size="11.67px" xml:space="preserve" fill="#111" stroke="#111" stroke-width="0.15" >Num of CITs                4</text>
<text class="m" x="594" y="281" font-size="11.67px" xml:space="preserve" fill="#111" stroke="#111" stroke-width="0.15" >Polarization          O-mode</text>
<text class="m" x="594" y="295" font-size="11.67px" xml:space="preserve" fill="#111" stroke="#111" stroke-width="0.15" >Center of Sources, deg:</text>
<text class="m" x="594" y="309" font-size="11.67px" xml:space="preserve" fill="#111" stroke="#111" stroke-width="0.15" >Tot           Zenith</text>
<text class="m" x="769" y="309" font-size="11.67px" xml:space="preserve" fill="#bcbcbc" >N/A</text>
<text class="m" x="594" y="323" font-size="11.67px" xml:space="preserve" fill="#111" stroke="#111" stroke-width="0.15" >Tot           Azimuth</text>
<text class="m" x="769" y="323" font-size="11.67px" xml:space="preserve" fill="#bcbcbc" >N/A</text>
<path d="M750.9 319.4 A1.5 1.5 0 0 1 753.8 320" fill="none" stroke="#000" stroke-width="1"/><path d="M748.7 318.9 L752 319.1 L750.1 321.6 Z" fill="#000"/>
<rect x="593" y="341" width="15" height="242" fill="url(#jet)"/>
<line x1="608.5" y1="341" x2="608.5" y2="583" stroke="#000" stroke-width="1"/>
<path d="M608 582.5h6.5M608 578.5h6.5M608 574.5h3.5M608 570.5h3.5M608 566.5h3.5M608 562.5h3.5M608 558.5h6.5M608 555.5h3.5M608 551.5h3.5M608 547.5h3.5M608 543.5h3.5M608 539.5h6.5M608 535.5h3.5M608 531.5h3.5M608 527.5h3.5M608 524.5h3.5M608 520.5h6.5M608 516.5h3.5M608 512.5h3.5M608 508.5h3.5M608 504.5h3.5M608 500.5h6.5M608 496.5h3.5M608 493.5h3.5M608 489.5h3.5M608 485.5h3.5M608 481.5h6.5M608 477.5h3.5M608 473.5h3.5M608 469.5h3.5M608 465.5h3.5M608 461.5h6.5M608 458.5h3.5M608 454.5h3.5M608 450.5h3.5M608 446.5h3.5M608 442.5h6.5M608 438.5h3.5M608 434.5h3.5M608 431.5h3.5M608 427.5h3.5M608 423.5h6.5M608 419.5h3.5M608 415.5h3.5M608 411.5h3.5M608 407.5h3.5M608 403.5h6.5M608 400.5h3.5M608 396.5h3.5M608 392.5h3.5M608 388.5h3.5M608 384.5h6.5M608 380.5h3.5M608 376.5h3.5M608 372.5h3.5M608 369.5h3.5M608 365.5h6.5M608 361.5h3.5M608 357.5h3.5M608 353.5h3.5M608 349.5h3.5M608 345.5h6.5M608 341.5h6.5" stroke="#000" stroke-width="1" fill="none"/>
<text class="s" x="617.632080078125" y="344.7" font-size="11.2px" xml:space="preserve" font-weight="bold" textLength="19.19" lengthAdjust="spacingAndGlyphs" >3.1</text>
<text class="s" x="617.56494140625" y="368.7" font-size="11.2px" xml:space="preserve" font-weight="bold" textLength="19.19" lengthAdjust="spacingAndGlyphs" >2.5</text>
<text class="s" x="617.56494140625" y="387.7" font-size="11.2px" xml:space="preserve" font-weight="bold" textLength="19.19" lengthAdjust="spacingAndGlyphs" >2.0</text>
<text class="s" x="617.379638671875" y="406.7" font-size="11.2px" xml:space="preserve" font-weight="bold" textLength="19.19" lengthAdjust="spacingAndGlyphs" >1.5</text>
<text class="s" x="617.379638671875" y="426.7" font-size="11.2px" xml:space="preserve" font-weight="bold" textLength="19.19" lengthAdjust="spacingAndGlyphs" >1.0</text>
<text class="s" x="617.73681640625" y="445.7" font-size="11.2px" xml:space="preserve" font-weight="bold" textLength="19.19" lengthAdjust="spacingAndGlyphs" >0.5</text>
<text class="s" x="617.73681640625" y="464.7" font-size="11.2px" xml:space="preserve" font-weight="bold" textLength="7.35" lengthAdjust="spacingAndGlyphs" >0</text>
<text class="s" x="617.701904296875" y="484.7" font-size="11.2px" xml:space="preserve" font-weight="bold" textLength="23.75" lengthAdjust="spacingAndGlyphs" >-0.5</text>
<text class="s" x="617.701904296875" y="503.7" font-size="11.2px" xml:space="preserve" font-weight="bold" textLength="23.75" lengthAdjust="spacingAndGlyphs" >-1.0</text>
<text class="s" x="617.701904296875" y="523.7" font-size="11.2px" xml:space="preserve" font-weight="bold" textLength="23.75" lengthAdjust="spacingAndGlyphs" >-1.5</text>
<text class="s" x="617.701904296875" y="542.7" font-size="11.2px" xml:space="preserve" font-weight="bold" textLength="23.75" lengthAdjust="spacingAndGlyphs" >-2.0</text>
<text class="s" x="617.701904296875" y="561.7" font-size="11.2px" xml:space="preserve" font-weight="bold" textLength="23.75" lengthAdjust="spacingAndGlyphs" >-2.5</text>
<text class="s" x="617.701904296875" y="585.7" font-size="11.2px" xml:space="preserve" font-weight="bold" textLength="23.75" lengthAdjust="spacingAndGlyphs" >-3.1</text>
<text class="s" font-weight="bold" font-size="10px" transform="translate(657 465.3) rotate(-90)" text-anchor="middle" stroke="#000" stroke-width="0.3" textLength="53" lengthAdjust="spacingAndGlyphs">Doppler, Hz</text>
<path d="M669 402.5H677M673 398.5V406.5" stroke="#0000e6" stroke-width="1.1"/>
<text class="s" x="682" y="406" font-size="10px" xml:space="preserve" font-weight="bold" fill="#0000e6" textLength="45.5" lengthAdjust="spacingAndGlyphs" >Positive</text>
<circle cx="673" cy="522.5" r="2.7" fill="none" stroke="#ee0000" stroke-width="1.1"/>
<text class="s" x="682" y="526" font-size="10px" xml:space="preserve" font-weight="bold" fill="#ee0000" textLength="51.2" lengthAdjust="spacingAndGlyphs" >Negative</text>
<text class="m" x="12" y="572" font-size="12.5px" xml:space="preserve" font-style="italic" stroke="#000" stroke-width="0.15" >V</text>
<text class="m" x="19" y="576" font-size="10px" xml:space="preserve" stroke="#000" stroke-width="0.15" >h</text>
<text class="m" x="32.5" y="572" font-size="11.67px" xml:space="preserve" stroke="#000" stroke-width="0.15" >=  <tspan font-style="italic">?</tspan> ±  <tspan font-style="italic">?</tspan> m/s</text>
<text class="m" x="466" y="572" font-size="12.5px" xml:space="preserve" font-style="italic" stroke="#000" stroke-width="0.15" >V</text>
<text class="m" x="473" y="576" font-size="10px" xml:space="preserve" stroke="#000" stroke-width="0.15" >z</text>
<text class="m" x="486.5" y="572" font-size="11.67px" xml:space="preserve" stroke="#000" stroke-width="0.15" >=  <tspan font-style="italic">?</tspan> ±  <tspan font-style="italic">?</tspan> m/s</text>
<text class="m" x="0" y="0" font-size="11.67px" xml:space="preserve" transform="translate(12 592.5) scale(1.0 1.1)" font-style="italic" stroke="#000" stroke-width="0.15" >Geographic coordinates</text>
<text class="m" x="0" y="0" font-size="11.67px" xml:space="preserve" transform="translate(419 592.5) scale(1.0 1.1)" font-style="italic" stroke="#000" stroke-width="0.15" >Zenith: max 40°</text>
<text class="m" x="0" y="0" font-size="11.67px" xml:space="preserve" transform="translate(534.5 592.5) scale(1.0 1.1)" font-style="italic" stroke="#000" stroke-width="0.15" >step 5°</text>
<text class="s" x="654.5" y="592.8" font-size="9.3px" xml:space="preserve" textLength="88.6" lengthAdjust="spacing" >ShowSkymap v 1.0</text>
<text class="s" x="753.2" y="592.8" font-size="9.3px" xml:space="preserve" textLength="39.4" lengthAdjust="spacing" >SD v 5.1</text>
<path d="M39 13.4 A19.8 19.8 0 0 0 14.3 42.5 A22.07 22.07 0 0 1 39 13.4 Z" fill="#3a96c4"/>
<text class="sf" x="49" y="30.5" font-size="10.6px" xml:space="preserve" fill="#33262e" textLength="30" lengthAdjust="spacingAndGlyphs" stroke="#33262e" stroke-width="0.35">Lowell</text>
<text class="s" x="20" y="43" font-size="11.5px" xml:space="preserve" fill="#92255a" textLength="59" lengthAdjust="spacingAndGlyphs" stroke="#92255a" stroke-width="0.5">DIGISONDE</text>
</svg></body></html>
